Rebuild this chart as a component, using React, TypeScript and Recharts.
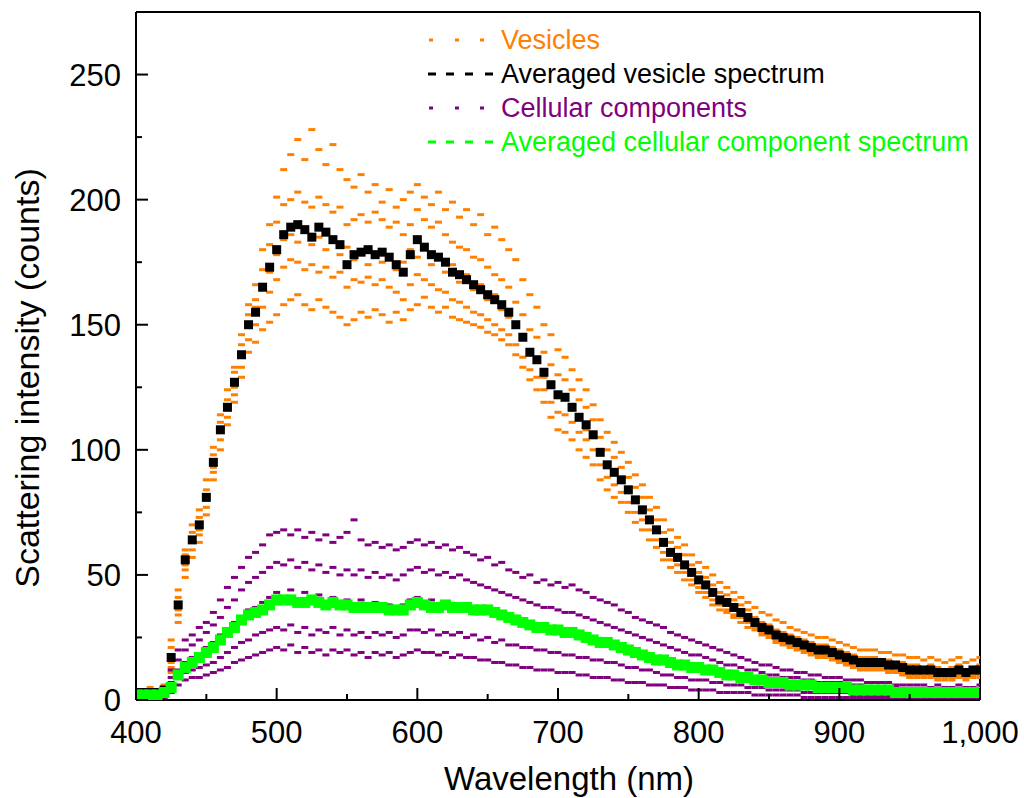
import { ComposedChart, Scatter, XAxis, YAxis, Legend, ReferenceLine } from "recharts";

const FONT = '"Liberation Sans", Arial, Helvetica, sans-serif';

// sample positions, every 5 nm from 400 to 1000
const wavelengths = Array.from({ length: 121 }, (_, i) => 400 + i * 5);

const xTicks = [400, 450, 500, 550, 600, 650, 700, 750, 800, 850, 900, 950, 1000];
const yTicks = [0, 25, 50, 75, 100, 125, 150, 175, 200, 225, 250];

// averaged vesicle spectrum (black squares)
const avgVesicle = [
  3, 3, 3, 3, 4, 17, 38, 56, 64, 70,
  81, 95, 108, 117, 127, 138, 150, 155, 165, 173,
  180, 186, 189, 190, 188, 185, 189, 187, 184, 182,
  174, 178, 179, 180, 178, 179, 177, 174, 171, 178,
  184, 181, 178, 177, 175, 171, 170, 168, 166, 164,
  162, 160, 158, 155, 150, 145, 139, 136, 131, 126,
  122, 121, 117, 113, 110, 106, 99, 94, 91, 88,
  84, 80, 76, 72, 68, 63, 59, 57, 54, 51,
  48, 46, 43, 40, 39, 37, 35, 33, 31, 29,
  28, 26, 25, 24, 23, 22, 21, 20, 20, 19,
  18, 17, 16, 15, 15, 15, 15, 14, 14, 13,
  12, 12, 12, 12, 11, 11, 11, 12, 11, 12,
  12,
];

// individual vesicle spectra (orange dashes)
const vesicleA = [
  4, 3, 5, 4, 6, 24, 44, 60, 70, 76,
  88, 101, 114, 124, 133, 146, 158, 166, 180, 190,
  201, 212, 218, 224, 216, 228, 220, 214, 222, 212,
  208, 205, 210, 203, 206, 199, 204, 197, 200, 203,
  206, 201, 198, 203, 196, 199, 193, 196, 190, 194,
  186, 189, 184, 180, 176, 168, 162, 157, 150, 146,
  140, 137, 132, 128, 124, 118, 112, 107, 103, 99,
  95, 90, 86, 81, 77, 72, 68, 65, 62, 58,
  55, 53, 50, 47, 45, 43, 41, 39, 37, 35,
  34, 32, 31, 29, 28, 27, 26, 25, 25, 24,
  23, 22, 21, 20, 20, 20, 19, 19, 18, 18,
  17, 17, 16, 17, 16, 15, 16, 17, 15, 16,
  17,
];
const vesicleB = [
  3, 4, 3, 3, 5, 21, 41, 58, 67, 73,
  84, 98, 111, 120, 131, 142, 154, 160, 172, 182,
  191, 198, 200, 203, 199, 197, 201, 198, 195, 197,
  190, 192, 194, 191, 195, 192, 189, 191, 186, 190,
  196, 192, 189, 191, 186, 183, 181, 180, 177, 176,
  173, 170, 168, 165, 159, 154, 148, 145, 139, 134,
  130, 128, 124, 120, 117, 112, 105, 100, 97, 93,
  89, 85, 81, 76, 72, 67, 63, 61, 58, 54,
  51, 49, 46, 43, 42, 40, 38, 36, 33, 31,
  30, 28, 27, 26, 25, 24, 23, 22, 22, 21,
  20, 19, 18, 17, 17, 17, 16, 16, 15, 15,
  14, 14, 13, 14, 13, 12, 13, 14, 12, 13,
  14,
];
const vesicleC = [
  2, 3, 2, 3, 3, 15, 36, 54, 63, 68,
  80, 93, 107, 118, 125, 137, 149, 157, 164, 171,
  178, 184, 186, 183, 187, 182, 185, 180, 183, 178,
  181, 176, 180, 174, 179, 175, 178, 172, 175, 180,
  177, 182, 174, 178, 171, 174, 167, 170, 164, 166,
  160, 162, 156, 153, 149, 146, 138, 137, 129, 127,
  121, 122, 116, 114, 108, 107, 100, 93, 92, 87,
  85, 79, 77, 71, 69, 62, 60, 56, 55, 50,
  49, 45, 44, 39, 40, 36, 36, 32, 32, 28,
  29, 25, 26, 23, 24, 21, 22, 19, 21, 18,
  19, 16, 17, 14, 16, 14, 16, 13, 15, 12,
  13, 11, 13, 11, 12, 10, 12, 11, 12, 11,
  13,
];
const vesicleD = [
  2, 2, 3, 2, 3, 13, 34, 52, 60, 66,
  77, 91, 104, 113, 122, 133, 144, 150, 157, 163,
  168, 173, 176, 175, 172, 174, 171, 173, 169, 171,
  165, 168, 167, 169, 166, 168, 165, 163, 160, 166,
  170, 168, 166, 164, 163, 160, 159, 157, 155, 154,
  152, 150, 148, 146, 142, 137, 132, 129, 124, 119,
  115, 114, 111, 107, 104, 100, 94, 89, 86, 83,
  79, 75, 72, 68, 64, 59, 56, 54, 51, 48,
  45, 43, 40, 38, 36, 34, 33, 31, 29, 27,
  26, 24, 23, 22, 21, 20, 19, 18, 18, 17,
  16, 15, 14, 13, 13, 13, 13, 12, 12, 11,
  10, 10, 10, 10, 9, 9, 9, 10, 9, 10,
  10,
];
const vesicleE = [
  1, 2, 2, 2, 2, 11, 31, 49, 57, 63,
  74, 88, 100, 110, 119, 129, 139, 143, 148, 151,
  154, 158, 160, 162, 158, 156, 160, 157, 155, 153,
  150, 152, 155, 153, 156, 154, 151, 155, 152, 156,
  158, 161, 157, 155, 157, 153, 152, 151, 150, 149,
  147, 146, 144, 142, 138, 133, 128, 124, 119, 113,
  108, 107, 104, 100, 97, 94, 88, 84, 81, 79,
  75, 71, 68, 64, 61, 56, 53, 51, 48, 46,
  43, 41, 38, 36, 35, 33, 31, 29, 28, 26,
  25, 23, 22, 21, 20, 19, 18, 17, 17, 16,
  15, 14, 13, 12, 12, 12, 12, 11, 11, 10,
  9, 9, 9, 9, 8, 8, 8, 9, 8, 9,
  9,
];

// averaged cellular component spectrum (green squares)
const avgCellular = [
  2, 2, 2, 2, 3, 5, 10, 13, 15, 17,
  19, 21, 24, 27, 29, 32, 34, 35, 36, 38,
  40, 40, 40, 39, 39, 40, 39, 38, 39, 38,
  38, 37, 37, 37, 37, 37, 36, 36, 36, 38,
  39, 38, 37, 37, 38, 37, 37, 37, 36, 36,
  36, 35, 34, 33, 32, 31, 30, 29, 29, 28,
  28, 27, 27, 26, 25, 24, 23, 23, 22, 21,
  20, 19, 18, 17, 16, 16, 15, 14, 14, 13,
  13, 12, 12, 11, 10, 10, 9, 9, 8, 8,
  7, 7, 7, 6, 6, 6, 6, 5, 5, 5,
  5, 5, 4, 4, 4, 4, 4, 4, 3, 3,
  3, 3, 3, 3, 3, 3, 3, 3, 3, 3,
  3,
];

// individual cellular component spectra (purple dashes)
const cellA = [
  1, 2, 2, 3, 5, 12, 20, 24, 26, 29,
  31, 35, 40, 45, 49, 53, 57, 59, 62, 66,
  67, 68, 66, 68, 65, 67, 64, 66, 63, 65,
  67, 72, 64, 62, 63, 61, 62, 60, 61, 63,
  64, 62, 63, 61, 62, 60, 61, 59, 58, 56,
  57, 54, 55, 52, 51, 49, 50, 47, 48, 46,
  47, 45, 46, 44, 43, 41, 40, 39, 38, 36,
  35, 33, 32, 31, 30, 29, 27, 26, 25, 24,
  23, 22, 21, 20, 19, 18, 17, 16, 15, 14,
  14, 13, 12, 12, 11, 11, 10, 10, 9, 9,
  9, 8, 8, 8, 7, 7, 7, 7, 6, 6,
  6, 6, 6, 5, 6, 5, 5, 6, 5, 5,
  6,
];
const cellB = [
  1, 1, 2, 2, 4, 9, 16, 20, 22, 24,
  27, 30, 33, 37, 40, 44, 47, 49, 51, 53,
  55, 54, 56, 53, 55, 52, 54, 51, 53, 50,
  52, 50, 52, 49, 51, 49, 50, 48, 50, 52,
  53, 51, 52, 50, 51, 49, 50, 48, 47, 46,
  45, 44, 43, 42, 41, 40, 39, 38, 37, 37,
  36, 35, 35, 34, 33, 32, 31, 30, 29, 28,
  27, 26, 25, 24, 23, 22, 21, 20, 19, 18,
  18, 17, 16, 15, 14, 14, 13, 12, 12, 11,
  10, 10, 9, 9, 9, 8, 8, 7, 7, 7,
  7, 6, 6, 6, 5, 5, 5, 5, 5, 4,
  4, 4, 4, 4, 4, 4, 4, 4, 4, 4,
  4,
];
const cellC = [
  0, 1, 1, 2, 3, 7, 12, 15, 17, 18,
  21, 23, 26, 28, 31, 33, 36, 37, 39, 41,
  43, 41, 44, 40, 43, 39, 42, 38, 41, 39,
  40, 37, 40, 38, 39, 37, 38, 36, 38, 40,
  41, 39, 40, 38, 39, 37, 38, 36, 37, 35,
  36, 34, 34, 32, 33, 31, 31, 29, 29, 28,
  29, 27, 28, 26, 26, 24, 24, 23, 23, 21,
  21, 19, 19, 18, 17, 16, 16, 15, 14, 13,
  13, 12, 12, 11, 11, 10, 9, 9, 8, 8,
  8, 7, 7, 6, 6, 6, 6, 5, 5, 5,
  5, 4, 4, 4, 4, 4, 3, 3, 3, 3,
  3, 3, 3, 2, 3, 2, 3, 2, 3, 2,
  3,
];
const cellD = [
  0, 0, 1, 1, 2, 5, 9, 11, 12, 13,
  14, 15, 17, 19, 21, 23, 24, 26, 27, 28,
  29, 28, 30, 27, 29, 26, 28, 27, 29, 26,
  28, 26, 27, 25, 27, 26, 27, 25, 26, 28,
  28, 27, 28, 26, 27, 26, 27, 25, 26, 24,
  25, 23, 24, 22, 22, 21, 21, 20, 20, 19,
  19, 18, 18, 17, 17, 16, 16, 15, 15, 14,
  13, 13, 12, 12, 11, 10, 10, 9, 9, 8,
  8, 8, 7, 7, 6, 6, 6, 5, 5, 5,
  4, 4, 4, 4, 4, 3, 3, 3, 3, 3,
  3, 3, 2, 2, 2, 2, 2, 2, 2, 2,
  2, 1, 2, 1, 2, 1, 2, 1, 1, 1,
  1,
];
const cellE = [
  0, 0, 0, 1, 1, 3, 6, 8, 9, 9,
  10, 11, 12, 13, 15, 16, 17, 18, 19, 20,
  21, 20, 22, 19, 21, 19, 20, 18, 20, 19,
  20, 18, 19, 17, 19, 18, 19, 17, 18, 19,
  20, 19, 19, 18, 19, 17, 18, 17, 17, 16,
  16, 15, 15, 14, 14, 13, 13, 12, 12, 12,
  11, 11, 11, 10, 10, 9, 9, 9, 8, 8,
  7, 7, 7, 6, 6, 6, 5, 5, 5, 4,
  4, 4, 4, 3, 3, 3, 3, 3, 2, 2,
  2, 2, 2, 2, 2, 1, 1, 1, 1, 1,
  1, 1, 1, 1, 1, 1, 1, 1, 1, 1,
  1, 1, 1, 1, 1, 1, 1, 1, 1, 1,
  1,
];

const ORANGE = "#FF8000";
const PURPLE = "#800080";
const GREEN = "#00FF00";

const legendItems = [
  { label: "Vesicles", color: ORANGE, kind: "dot" },
  { label: "Averaged vesicle spectrum", color: "#000000", kind: "dash" },
  { label: "Cellular components", color: PURPLE, kind: "dot" },
  { label: "Averaged cellular component spectrum", color: GREEN, kind: "dash" },
];

const toPoints = (values: number[]) =>
  wavelengths.map((x, i) => ({ x, y: values[i] }));

const vesiclePoints = [vesicleA, vesicleB, vesicleC, vesicleD, vesicleE].flatMap(toPoints);
const cellPoints = [cellA, cellB, cellC, cellD, cellE].flatMap(toPoints);
const avgVesiclePoints = toPoints(avgVesicle);
const avgCellularPoints = toPoints(avgCellular);

const dashShape = (color: string) => (p: any) =>
  p.cx == null ? <g /> : (
    <rect x={p.cx - 3.5} y={p.cy - 1.5} width={7} height={3} fill={color} />
  );

const squareShape = (color: string, s: number) => (p: any) =>
  p.cx == null ? <g /> : (
    <rect x={p.cx - s / 2} y={p.cy - s / 2} width={s} height={s} fill={color} />
  );

const YTickMark = (props: any) => {
  const { x, y, payload } = props;
  const major = payload.value % 50 === 0;
  return (
    <g>
      <line x1={x} x2={x + (major ? 12 : 6)} y1={y} y2={y} stroke="#000" strokeWidth={2} />
      {major && (
        <text x={x - 15} y={y} dy="0.36em" textAnchor="end" fontSize={31} fill="#000" fontFamily={FONT}>
          {payload.value}
        </text>
      )}
    </g>
  );
};

const XTickMark = (props: any) => {
  const { x, y, payload } = props;
  const major = payload.value % 100 === 0;
  return (
    <g>
      <line x1={x} x2={x} y1={y} y2={y - (major ? 12 : 6)} stroke="#000" strokeWidth={2} />
      {major && (
        <text x={x} y={y + 43} textAnchor="middle" fontSize={31} fill="#000" fontFamily={FONT}>
          {payload.value.toLocaleString("en-US")}
        </text>
      )}
    </g>
  );
};

const XTopTick = (props: any) => {
  const { x, y, payload } = props;
  const major = payload.value % 100 === 0;
  return <line x1={x} x2={x} y1={y} y2={y + (major ? 12 : 6)} stroke="#000" strokeWidth={2} />;
};

const yTitle = () => (
  <text
    x={27}
    y={378}
    transform="rotate(-90 27 378)"
    textAnchor="middle"
    dominantBaseline="central"
    fontSize={34}
    fill="#000"
    fontFamily={FONT}
  >
    Scattering intensity (counts)
  </text>
);

const xTitle = () => (
  <text x={569} y={790} textAnchor="middle" fontSize={33} fill="#000" fontFamily={FONT}>
    Wavelength (nm)
  </text>
);

const renderLegend = () => (
  <div style={{ fontFamily: FONT, fontSize: 27, lineHeight: "34px" }}>
    {legendItems.map((item) => (
      <div key={item.label} style={{ display: "flex", alignItems: "center", height: 34 }}>
        <svg width={75} height={10} style={{ display: "block" }}>
          {item.kind === "dot"
            ? [4, 30, 55].map((dx) => (
                <rect key={dx} x={dx} y={3.5} width={4} height={3} fill={item.color} />
              ))
            : [3, 21, 40, 60].map((dx) => (
                <rect key={dx} x={dx} y={3.5} width={8} height={3} fill={item.color} />
              ))}
        </svg>
        <span style={{ color: item.color, marginLeft: 1, whiteSpace: "nowrap" }}>{item.label}</span>
      </div>
    ))}
  </div>
);

const axisLine = { stroke: "#000", strokeWidth: 2 };

export default function App() {
  return (
    <div
      style={{
        position: "absolute",
        left: 0,
        top: 0,
        width: 1024,
        height: 798,
        background: "#fff",
        fontFamily: FONT,
      }}
    >
      <ComposedChart width={1024} height={798} margin={{ top: 0, right: 43, bottom: 0, left: 0 }}>
        <XAxis
          xAxisId="bottom"
          type="number"
          dataKey="x"
          domain={[400, 1000]}
          ticks={xTicks}
          interval={0}
          height={98}
          tickSize={0}
          tickMargin={0}
          tick={<XTickMark />}
          axisLine={axisLine}
          label={xTitle}
          allowDataOverflow
        />
        <XAxis
          xAxisId="top"
          orientation="top"
          type="number"
          domain={[400, 1000]}
          ticks={xTicks}
          interval={0}
          height={12}
          tickSize={0}
          tickMargin={0}
          tick={<XTopTick />}
          axisLine={axisLine}
        />
        <YAxis
          yAxisId="left"
          type="number"
          dataKey="y"
          domain={[0, 275]}
          ticks={yTicks}
          interval={0}
          width={136}
          tickSize={0}
          tickMargin={0}
          tick={<YTickMark />}
          axisLine={axisLine}
          label={yTitle}
          allowDataOverflow
        />
        <YAxis
          yAxisId="right"
          orientation="right"
          type="number"
          domain={[0, 275]}
          width={1}
          tick={false}
          tickLine={false}
          axisLine={axisLine}
        />
        <ReferenceLine xAxisId="bottom" yAxisId="left" y={275} stroke="#000" strokeWidth={2} />
        <Legend
          layout="vertical"
          align="center"
          verticalAlign="middle"
          content={renderLegend}
          wrapperStyle={{ left: 425, top: 23, width: 570, height: 140 }}
        />
        <Scatter
          name="Vesicles"
          xAxisId="bottom"
          yAxisId="left"
          data={vesiclePoints}
          dataKey="y"
          fill={ORANGE}
          shape={dashShape(ORANGE)}
          isAnimationActive={false}
        />
        <Scatter
          name="Cellular components"
          xAxisId="bottom"
          yAxisId="left"
          data={cellPoints}
          dataKey="y"
          fill={PURPLE}
          shape={dashShape(PURPLE)}
          isAnimationActive={false}
        />
        <Scatter
          name="Averaged vesicle spectrum"
          xAxisId="bottom"
          yAxisId="left"
          data={avgVesiclePoints}
          dataKey="y"
          fill="#000"
          shape={squareShape("#000", 9)}
          isAnimationActive={false}
        />
        <Scatter
          name="Averaged cellular component spectrum"
          xAxisId="bottom"
          yAxisId="left"
          data={avgCellularPoints}
          dataKey="y"
          fill={GREEN}
          shape={squareShape(GREEN, 11)}
          isAnimationActive={false}
        />
      </ComposedChart>
    </div>
  );
}
